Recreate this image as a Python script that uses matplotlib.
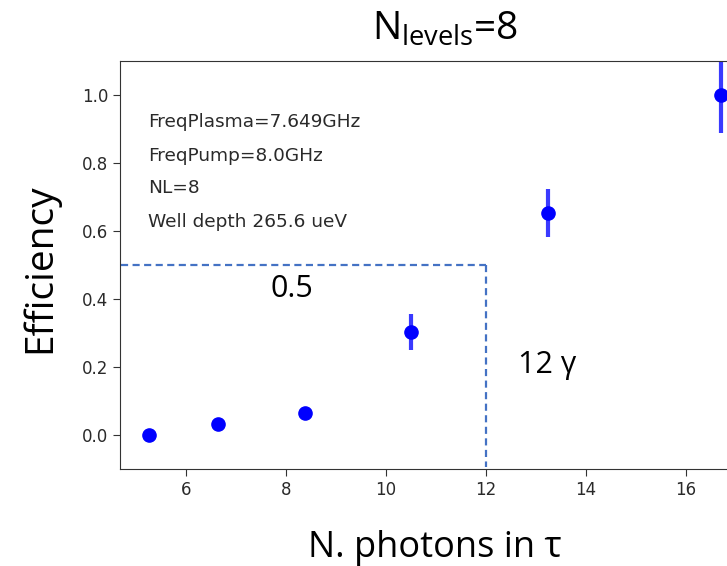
import matplotlib
matplotlib.use("Agg")
import matplotlib.pyplot as plt

plt.rcParams['mathtext.fontset'] = 'custom'
plt.rcParams['mathtext.rm'] = 'Open Sans'

# data
n_photons = [5.25, 6.63, 8.37, 10.5, 13.24, 16.69]
efficiency = [0.0, 0.032, 0.066, 0.304, 0.653, 1.0]
eff_err = [0.0, 0.0, 0.0, 0.053, 0.072, 0.112]

info_lines = ["FreqPlasma=7.649GHz", "FreqPump=8.0GHz", "NL=8", "Well depth 265.6 ueV"]
info_y = [0.92, 0.82, 0.726, 0.626]

threshold_eff = 0.5
threshold_n = 12

big_font = 'Open Sans'
dash_col = '#4472C4'

fig = plt.figure(figsize=(7.27, 5.66), dpi=100)
# axes runs past the right edge of the figure (reference is cropped)
ax = fig.add_axes([120/727, 97/566, 627/727, 408/566])

ax.errorbar(n_photons, efficiency, yerr=eff_err, fmt='o', color='blue',
            ecolor='#3a3aff', elinewidth=3, markersize=9.5, capsize=0)

ax.set_xlim(4.68, 17.22)
ax.set_ylim(-0.1, 1.1)
ax.set_xticks([6, 8, 10, 12, 14, 16])
ax.set_yticks([0.0, 0.2, 0.4, 0.6, 0.8, 1.0])
ax.tick_params(labelsize=12, colors='#333333', labelcolor='#2a2a2a', length=5)
for s in ax.spines.values():
    s.set_color('#333333')

for txt, yy in zip(info_lines, info_y):
    ax.text(5.24, yy, txt, fontsize=13.3, va='center', ha='left', color='#2a2a2a')

# dashed guide lines
ax.plot([4.7, threshold_n], [threshold_eff, threshold_eff], '--',
        color=dash_col, lw=1.6, dashes=(3.2, 2))
ax.plot([threshold_n, threshold_n], [threshold_eff, -0.095], '--',
        color=dash_col, lw=1.6, dashes=(3.2, 2))

ax.text(8.12, 0.43, "0.5", fontsize=22, family=big_font, ha='center', va='center')
ax.text(13.22, 0.206, "12 \u03b3", fontsize=22, family=big_font, ha='center', va='center')

fig.text(445/727, 1 - 30/566, r"N$_{\mathrm{levels}}$=8", fontsize=28,
         family=big_font, ha='center', va='center')
fig.text(40/727, 1 - 268/566, "Efficiency", fontsize=28, family=big_font,
         rotation=90, ha='center', va='center')
fig.text(435/727, 1 - 548/566, "N. photons in \u03c4", fontsize=26,
         family=big_font, ha='center', va='center')

fig.savefig("out.png", dpi=100)
